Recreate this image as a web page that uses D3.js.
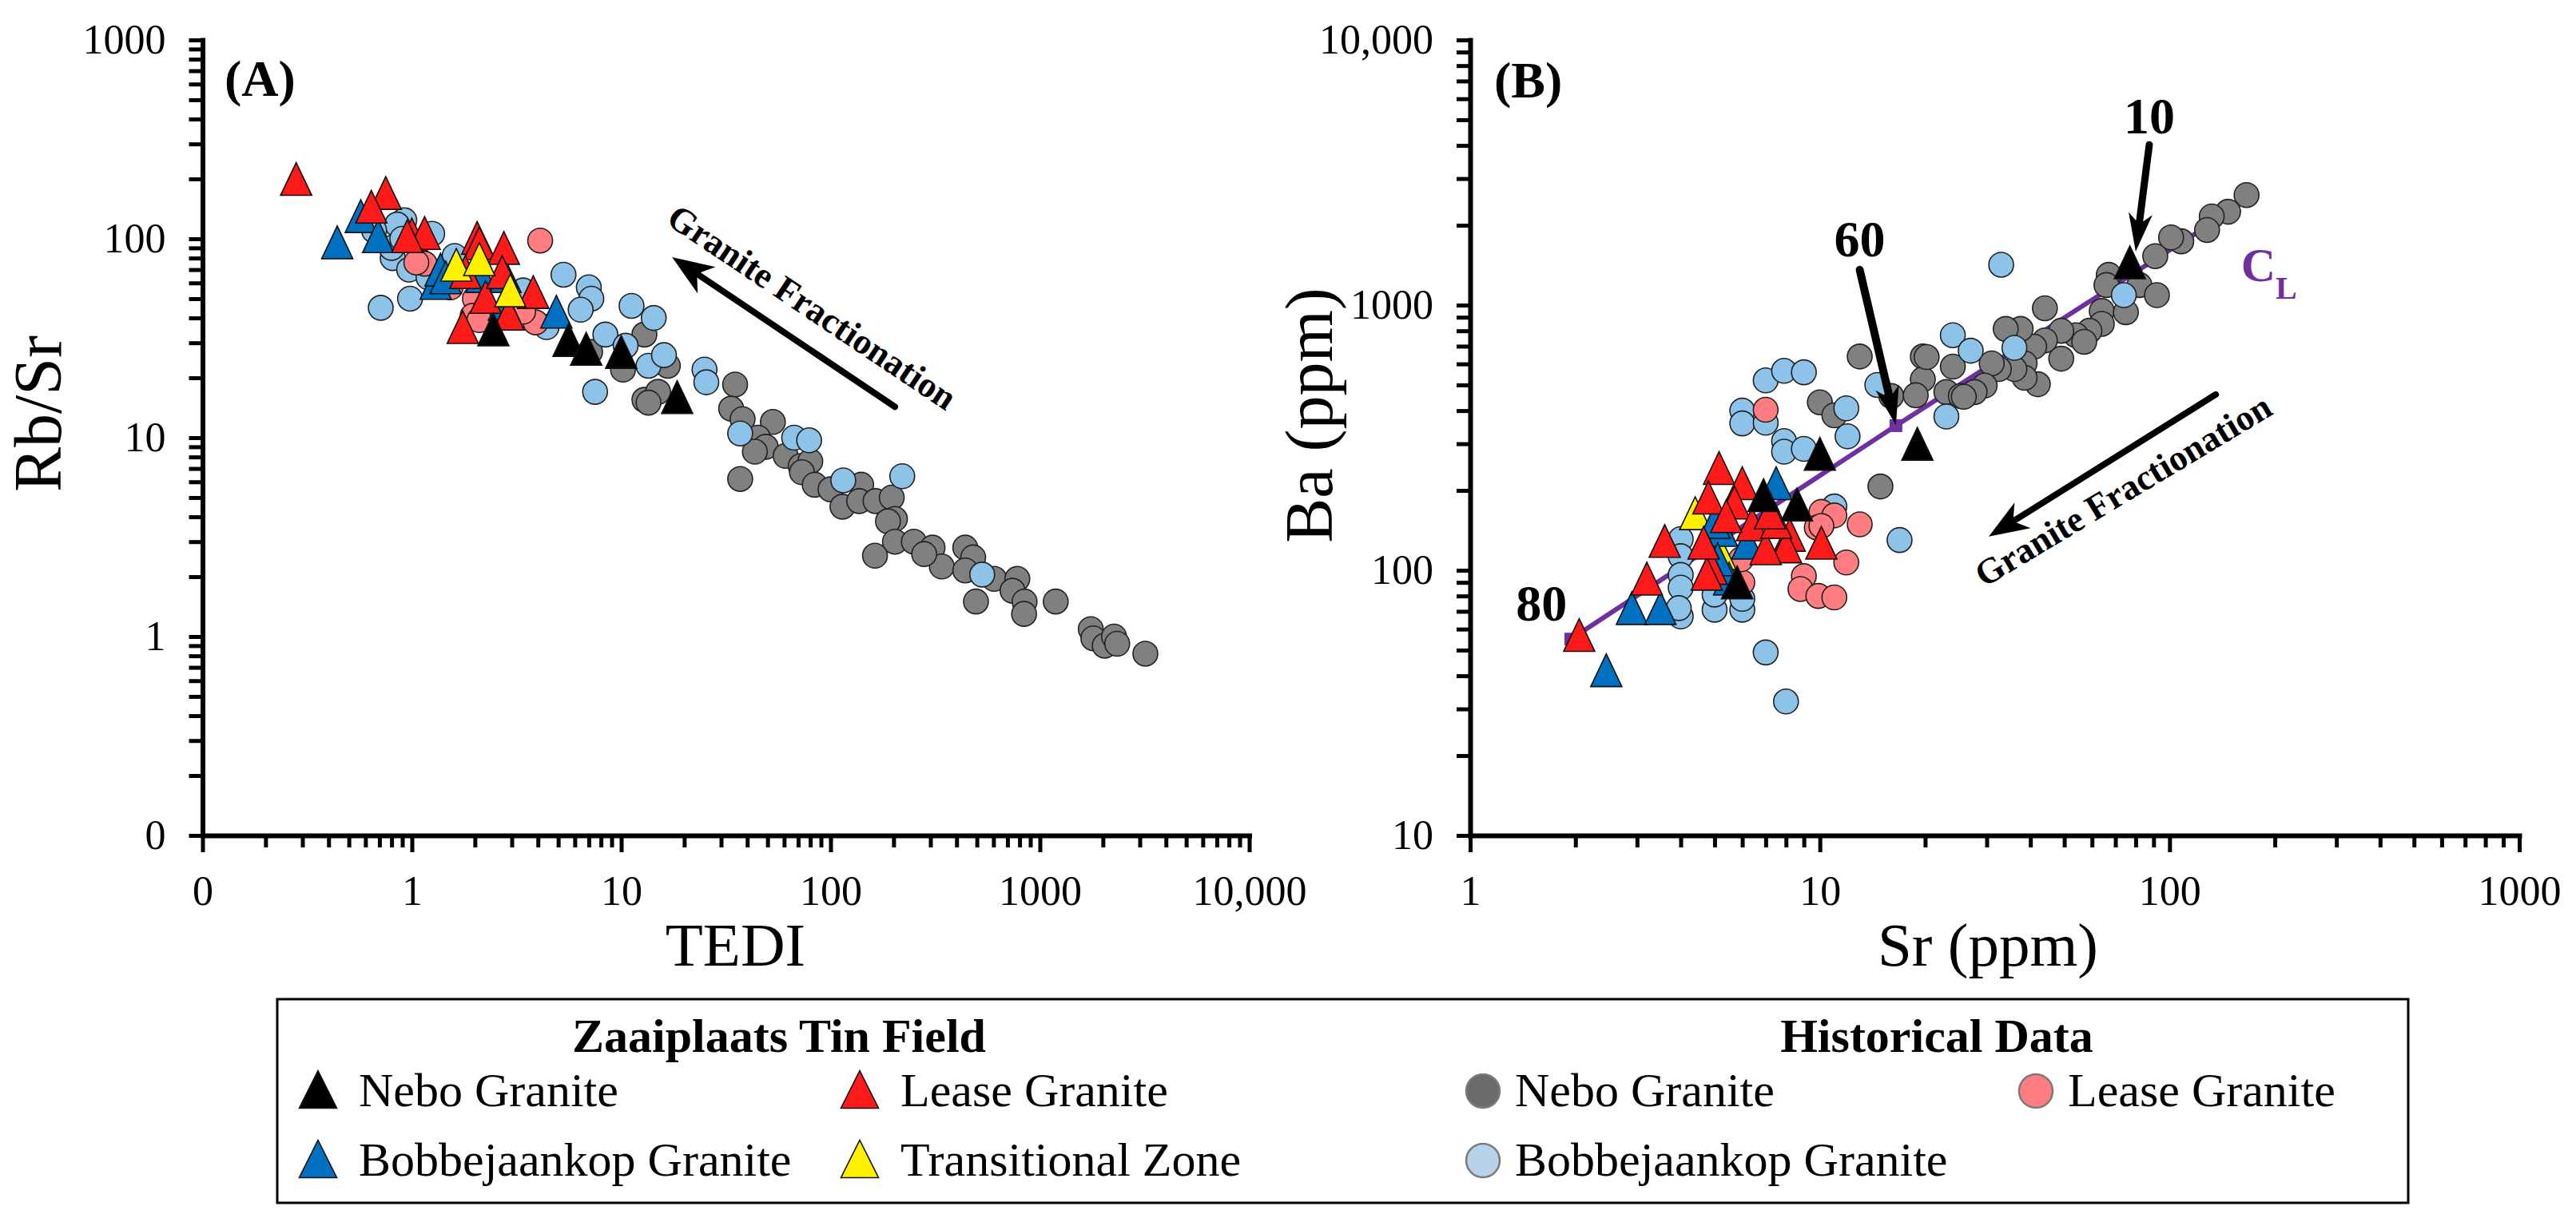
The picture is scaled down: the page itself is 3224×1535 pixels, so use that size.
<!DOCTYPE html>
<html><head><meta charset="utf-8">
<script src="https://cdn.jsdelivr.net/npm/d3@7"></script>
<style>html,body{margin:0;padding:0;background:#fff}svg{display:block}</style>
</head><body>
<svg id="chart" width="3224" height="1535"></svg>
<script>
// ---------- DATA ----------
// Panel A: [TEDI, Rb/Sr]
const aNeboZ   = [[2.45,35],[5.6,31],[6.8,28],[10,27],[18.5,16]];
const aBobZ    = [[0.44,96],[0.57,130],[0.69,103],[1.3,60],[1.37,70],[1.45,64],[2.15,65],[2.8,65],[2.75,47],[4.9,43]];
const aLeaseZ  = [[0.28,200],[0.75,170],[0.64,145],[1.0,105],[1.15,107],[0.95,103],[2.05,101],[2.1,95],[2.75,90],[3.8,54],[2.25,51],[2.9,42],[1.75,36],[1.8,68],[2.7,68]];
const aTransZ  = [[1.63,74],[2.1,79],[2.95,55]];
const aNeboH   = [[7.1,27],[10.2,22],[12.9,33],[12.9,15.5],[16.7,23],[15,17],[13.5,15],[35,18.5],[33.5,14],[38,12.4],[53,12],[45,10],[49,9],[43.5,8.5],[61,8.1],[72,7.2],[80,7.6],[37,6.2],[73,6.7],[84,5.8],[140,5.8],[100,5.5],[114,4.5],[137,4.8],[164,4.8],[196,5.0],[203,3.9],[188,3.8],[203,3.0],[163,2.55],[250,3.0],[307,2.8],[340,2.25],[280,2.6],[440,2.8],[480,2.5],[440,2.15],[605,1.95],[495,1.5],[780,1.95],[740,1.7],[845,1.5],[840,1.3],[1190,1.5],[1750,1.09],[1800,0.98],[2040,0.9],[2260,1.0],[2340,0.92],[3190,0.82]];
const aBobH    = [[0.71,45],[0.98,50],[0.92,124],[0.85,118],[0.66,110],[1.25,106],[0.81,80],[0.97,70],[1.2,64],[1.6,82],[0.8,90],[0.9,100],[5.3,66],[7.0,57],[7.2,50],[6.4,44],[3.4,55],[4.4,36],[8.4,33],[11.2,46],[10.5,29],[13.5,23],[7.5,17],[14.3,40],[16,26],[25,22],[25.5,19],[37,10.5],[67,10],[79,9.7],[115,6.1],[220,6.4],[530,2.05]];
const aLeaseH  = [[4.1,98],[1.15,75],[1.05,76],[1.53,57],[2.0,50],[1.95,41],[2.1,39],[3.9,38],[3.4,43]];

// Panel B: [Sr, Ba]
const bNeboZ   = [[10,275],[19,300],[6.9,192],[8.6,177],[5.8,90],[77,1450]];
const bBobZ    = [[2.45,42],[2.9,72],[3.5,72],[7.5,213],[5.25,142],[6.2,127],[5.5,93],[5.0,152],[5.1,110]];
const bLeaseZ  = [[2.05,57],[3.2,93],[3.6,129],[5.15,243],[6.0,213],[4.8,188],[5.7,180],[6.4,149],[8.2,136],[10.1,127],[4.9,102],[4.75,97],[8.0,123],[7.0,121],[4.65,127],[7.5,152],[5.4,160],[7.2,165]];
const bTransZ  = [[4.4,164],[5.2,116]];
const bNeboH   = [[13,640],[10,430],[11,384],[14.9,207],[16,454],[19.7,640],[19.7,525],[18.8,457],[24,586],[23,470],[25.3,454],[166,2600],[147,2250],[132,2160],[128,1920],[108,1740],[101,1800],[91,1530],[67,1300],[66,1190],[82,1190],[92,1090],[64,950],[75,940],[64,850],[59,800],[54,770],[57,727],[49,800],[49,628],[44,973],[44,736],[41,697],[37.5,813],[34,813],[38.5,603],[42,503],[38.5,532],[36,574],[32.5,574],[31,603],[29.6,497],[27.7,470],[25.8,451],[20.2,637]];
const bBobH    = [[4.0,131],[4.0,113],[4.0,96],[4.0,86],[4.0,67],[3.95,72],[5.0,71],[5.0,81],[6.0,71],[6.0,78],[7.0,49],[8.0,32],[16.9,130],[6.0,400],[6.0,358],[7.0,520],[7.9,565],[9.0,558],[7.0,360],[7.9,307],[7.9,280],[9.0,287],[11.9,408],[12,320],[24,770],[23,380],[14.6,500],[11,174],[33,1420],[27,673],[36,690],[74,1090]];
const bLeaseH  = [[7.0,403],[10.1,166],[11,161],[13,149],[9.8,145],[11.9,107],[9.0,95],[8.8,85],[9.9,80],[11,79],[6.0,90],[5.95,110],[10.1,147]];

// Liquid composition (C_L) fractionation curve
const clSr = [1.94, 16.5, 120];
const clBa = [55, 351, 1880];

// Tick values / labels
const aXTicks = [0.1,1,10,100,1000,10000];
const aXLabels = ["0","1","10","100","1000","10,000"];
const aYTicks = [0.1,1,10,100,1000];
const aYLabels = ["0","1","10","100","1000"];
const bXTicks = [1,10,100,1000];
const bXLabels = ["1","10","100","1000"];
const bYTicks = [10,100,1000,10000];
const bYLabels = ["10","100","1000","10,000"];

// Legend entries
const legendZ = ["Nebo Granite","Lease Granite","Bobbejaankop Granite","Transitional Zone"];
const legendH = ["Nebo Granite","Lease Granite","Bobbejaankop Granite"];

// ---------- STYLE ----------
const FONT = "'Liberation Serif','Times New Roman',Times,serif";
const C = {
  neboZ:"#000000", bobZ:"#0070C0", leaseZ:"#FF1A1A", transZ:"#FFF000",
  neboH:"#808080", bobH:"#8DC3E9", leaseH:"#FF7C80", cl:"#7030A0"
};

const svg = d3.select("#chart");
svg.append("rect").attr("width",3224).attr("height",1535).attr("fill","#fff");

const xA = d3.scaleLog().domain([0.1,10000]).range([253.5,1563.5]);
const yA = d3.scaleLog().domain([0.1,1000]).range([1046,50]);
const xB = d3.scaleLog().domain([1,1000]).range([1840,3153]);
const yB = d3.scaleLog().domain([10,10000]).range([1046,50]);

function minors(sc){
  const [lo,hi] = sc.domain(); const a=[];
  for(let e=Math.round(Math.log10(lo)); e<Math.round(Math.log10(hi)); e++)
    for(let k=2;k<=9;k++) a.push(k*Math.pow(10,e));
  return a;
}

function axes(g, x, y, xt, xl, yt, yl){
  const x0 = x.range()[0], y0 = y.range()[0];
  const style = sel => {
    sel.attr("font-size",52).attr("font-family",FONT);
    sel.selectAll(".tick line").attr("stroke","#000").attr("stroke-width",5);
    sel.selectAll(".tick text").attr("fill","#000");
    sel.selectAll(".domain").attr("stroke","#000").attr("stroke-width",6).attr("stroke-linecap","square");
  };
  const gxm = g.append("g").attr("transform",`translate(0,${y0})`)
    .call(d3.axisBottom(x).tickValues(minors(x)).tickSize(15).tickSizeOuter(0).tickFormat(""));
  gxm.select(".domain").remove(); style(gxm);
  const gym = g.append("g").attr("transform",`translate(${x0},0)`)
    .call(d3.axisLeft(y).tickValues(minors(y)).tickSize(17).tickSizeOuter(0).tickFormat(""));
  gym.select(".domain").remove(); style(gym);
  const gx = g.append("g").attr("transform",`translate(0,${y0})`)
    .call(d3.axisBottom(x).tickValues(xt).tickSize(21).tickSizeOuter(0).tickPadding(29).tickFormat((d,i)=>xl[i]));
  style(gx);
  const gy = g.append("g").attr("transform",`translate(${x0},0)`)
    .call(d3.axisLeft(y).tickValues(yt).tickSize(17).tickSizeOuter(0).tickPadding(29).tickFormat((d,i)=>yl[i]));
  style(gy);
}

const triPath = (w,h) => `M0,${-h/2}L${w/2},${h/2}L${-w/2},${h/2}Z`;

function circles(g, data, x, y, fill){
  g.append("g").selectAll("circle").data(data).join("circle")
    .attr("cx",d=>x(d[0])).attr("cy",d=>y(d[1])).attr("r",15.5)
    .attr("fill",fill).attr("stroke","#222").attr("stroke-width",1.6);
}
function triangles(g, data, x, y, fill){
  g.append("g").selectAll("path").data(data).join("path")
    .attr("d",triPath(39,41))
    .attr("transform",d=>`translate(${x(d[0])},${y(d[1])})`)
    .attr("fill",fill).attr("stroke","#111").attr("stroke-width",1.6).attr("stroke-linejoin","miter");
}

function arrow(g, p1, p2, w, hl, hh){
  const [x1,y1]=p1,[x2,y2]=p2;
  const dx=x2-x1, dy=y2-y1, L=Math.hypot(dx,dy), ux=dx/L, uy=dy/L, nx=-uy, ny=ux;
  const bx=x2-ux*hl, by=y2-uy*hl;
  const mx=x2-ux*hl*0.72, my=y2-uy*hl*0.72;
  g.append("line").attr("x1",x1).attr("y1",y1).attr("x2",mx).attr("y2",my)
    .attr("stroke","#000").attr("stroke-width",w).attr("stroke-linecap","round");
  g.append("path").attr("d",`M${x2},${y2}L${bx+nx*hh},${by+ny*hh}L${mx},${my}L${bx-nx*hh},${by-ny*hh}Z`)
    .attr("fill","#000");
}

// ---------- PANEL A ----------
const gA = svg.append("g");
circles(gA, aNeboH, xA, yA, C.neboH);
circles(gA, aBobH, xA, yA, C.bobH);
circles(gA, aLeaseH, xA, yA, C.leaseH);
triangles(gA, aBobZ, xA, yA, C.bobZ);
triangles(gA, aLeaseZ, xA, yA, C.leaseZ);
triangles(gA, aNeboZ, xA, yA, C.neboZ);
triangles(gA, aTransZ, xA, yA, C.transZ);
axes(gA, xA, yA, aXTicks, aXLabels, aYTicks, aYLabels);

gA.append("text").attr("x",281).attr("y",120).attr("font-family",FONT).attr("font-weight","bold")
  .attr("font-size",64).text("(A)");
gA.append("text").attr("x",(xA.range()[0]+xA.range()[1])/2+12).attr("y",1209).attr("text-anchor","middle")
  .attr("font-family",FONT).attr("font-size",77).text("TEDI");
gA.append("text").attr("transform",`translate(76,518) rotate(-90)`).attr("text-anchor","middle")
  .attr("font-family",FONT).attr("font-size",84).text("Rb/Sr");

// fractionation arrow (data coordinates)
const aArrow = [[203,14.3],[17.5,80.9]];
arrow(gA, [xA(aArrow[0][0]),yA(aArrow[0][1])], [xA(aArrow[1][0]),yA(aArrow[1][1])], 8, 52, 20);
const aTxt = [75.9, 40.4];
gA.append("text").attr("transform",`translate(${xA(aTxt[0])},${yA(aTxt[1])}) rotate(33.8)`)
  .attr("text-anchor","middle").attr("font-family",FONT).attr("font-weight","bold").attr("font-size",45)
  .text("Granite Fractionation");

// ---------- PANEL B ----------
const gB = svg.append("g");
const clData = clSr.map((s,i)=>[s, clBa[i]]);
gB.append("path").datum(clData).attr("d", d3.line().x(d=>xB(d[0])).y(d=>yB(d[1])))
  .attr("fill","none").attr("stroke",C.cl).attr("stroke-width",6);
gB.append("g").selectAll("rect").data(clData.slice(0,2)).join("rect")
  .attr("x",d=>xB(d[0])-8).attr("y",d=>yB(d[1])-8).attr("width",16).attr("height",16).attr("fill",C.cl);

circles(gB, bNeboH, xB, yB, C.neboH);
circles(gB, bBobH, xB, yB, C.bobH);
circles(gB, bLeaseH, xB, yB, C.leaseH);
triangles(gB, bTransZ, xB, yB, C.transZ);
triangles(gB, bBobZ, xB, yB, C.bobZ);
triangles(gB, bLeaseZ, xB, yB, C.leaseZ);
triangles(gB, bNeboZ, xB, yB, C.neboZ);
axes(gB, xB, yB, bXTicks, bXLabels, bYTicks, bYLabels);

gB.append("text").attr("x",1870).attr("y",122).attr("font-family",FONT).attr("font-weight","bold")
  .attr("font-size",64).text("(B)");
gB.append("text").attr("x",2488).attr("y",1209).attr("text-anchor","middle")
  .attr("font-family",FONT).attr("font-size",77).text("Sr (ppm)");
gB.append("text").attr("transform",`translate(1667,520) rotate(-90)`).attr("text-anchor","middle")
  .attr("font-family",FONT).attr("font-size",84).text("Ba (ppm)");

// annotations in data coordinates
const bArrow = [[135.5,460],[30.4,134]];
arrow(gB, [xB(bArrow[0][0]),yB(bArrow[0][1])], [xB(bArrow[1][0]),yB(bArrow[1][1])], 8, 50, 19);
const bTxt = [76.7,183];
gB.append("text").attr("transform",`translate(${xB(bTxt[0])},${yB(bTxt[1])}) rotate(-31)`)
  .attr("text-anchor","middle").attr("font-family",FONT).attr("font-weight","bold").attr("font-size",45)
  .text("Granite Fractionation");

const arr60 = [[13.0,1358],[16.5,353]];
arrow(gB, [xB(arr60[0][0]),yB(arr60[0][1])], [xB(arr60[1][0]),yB(arr60[1][1])], 10, 48, 15);
const arr10 = [[87.5,4027],[80,1592]];
arrow(gB, [xB(arr10[0][0]),yB(arr10[0][1])], [xB(arr10[1][0]),yB(arr10[1][1])], 9, 48, 15);

const pctLabels = [["60",13.0,1528],["10",87.5,4446],["80",1.6,64.6]];
gB.append("g").selectAll("text").data(pctLabels).join("text")
  .attr("x",d=>xB(d[1])).attr("y",d=>yB(d[2])).attr("text-anchor","middle")
  .attr("font-family",FONT).attr("font-weight","bold").attr("font-size",64).text(d=>d[0]);

const clLab = [160,1230];
const clT = gB.append("text").attr("x",xB(clLab[0])).attr("y",yB(clLab[1]))
  .attr("font-family",FONT).attr("font-weight","bold").attr("fill",C.cl).attr("font-size",60);
clT.append("tspan").text("C");
clT.append("tspan").attr("font-size",40).attr("dy",22).text("L");

// ---------- LEGEND ----------
const lg = svg.append("g").attr("font-family",FONT);
lg.append("rect").attr("x",347).attr("y",1251).attr("width",2667).attr("height",255)
  .attr("fill","none").attr("stroke","#000").attr("stroke-width",3);
lg.append("text").attr("x",975).attr("y",1317).attr("text-anchor","middle").attr("font-weight","bold")
  .attr("font-size",60).text("Zaaiplaats Tin Field");
lg.append("text").attr("x",2424).attr("y",1317).attr("text-anchor","middle").attr("font-weight","bold")
  .attr("font-size",60).text("Historical Data");

const zItems = [
  {t:legendZ[0], fill:C.neboZ, cx:398, ty:1385},
  {t:legendZ[1], fill:C.leaseZ, cx:1076, ty:1385},
  {t:legendZ[2], fill:C.bobZ, cx:398, ty:1472},
  {t:legendZ[3], fill:C.transZ, cx:1076, ty:1472}
];
zItems.forEach(it=>{
  lg.append("path").attr("d",triPath(47,47)).attr("transform",`translate(${it.cx},${it.ty-21})`)
    .attr("fill",it.fill).attr("stroke","#111").attr("stroke-width",1.6);
  lg.append("text").attr("x",it.cx+51).attr("y",it.ty).attr("font-size",60).text(it.t);
});
const hItems = [
  {t:legendH[0], fill:"#6B6B6B", cx:1856, ty:1385},
  {t:legendH[1], fill:"#FF7C80", cx:2548, ty:1385},
  {t:legendH[2], fill:"#BAD1EA", cx:1856, ty:1472}
];
hItems.forEach(it=>{
  lg.append("circle").attr("cx",it.cx).attr("cy",it.ty-19).attr("r",21)
    .attr("fill",it.fill).attr("stroke","#7a7a7a").attr("stroke-width",2.5);
  lg.append("text").attr("x",it.cx+40).attr("y",it.ty).attr("font-size",60).text(it.t);
});
</script>
</body></html>
